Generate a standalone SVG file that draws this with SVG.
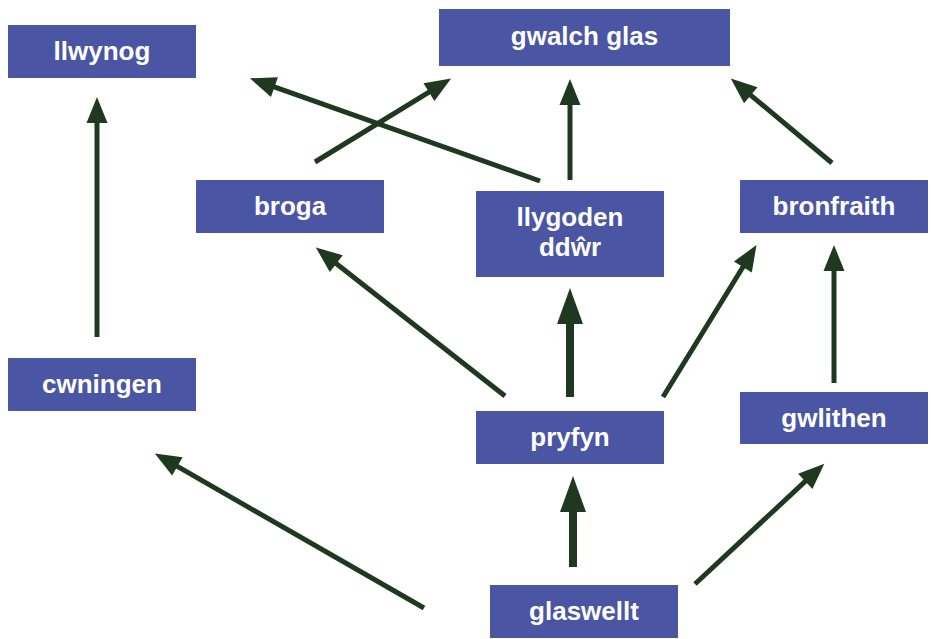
<svg xmlns="http://www.w3.org/2000/svg" width="931" height="639" viewBox="0 0 931 639">
<style>
.box{fill:#4a55a3}
.lbl{fill:#ffffff;font-family:"Liberation Sans",Arial,sans-serif;font-weight:bold;font-size:26px;text-anchor:middle}
.c{stroke:#1f3920;stroke-width:5;fill:none}
.t{stroke-width:8}
</style>
<defs>
<marker id="ah" markerUnits="userSpaceOnUse" markerWidth="28" markerHeight="22" refX="1" refY="10.5" orient="auto" overflow="visible"><path d="M0,0 L26,10.5 L0,21 z" fill="#1f3920"/></marker>
<marker id="ahT" markerUnits="userSpaceOnUse" markerWidth="38" markerHeight="28" refX="1" refY="13" orient="auto" overflow="visible"><path d="M0,0 L36,13 L0,26 z" fill="#1f3920"/></marker>
</defs>
<rect width="931" height="639" fill="#ffffff"/>
<g id="connectors">
<line class="c" x1="97" y1="337" x2="97" y2="122" marker-end="url(#ah)"/>
<line class="c" x1="540" y1="181" x2="273.5" y2="86.7" marker-end="url(#ah)"/>
<line class="c" x1="315" y1="162" x2="429.8" y2="91.6" marker-end="url(#ah)"/>
<line class="c" x1="570" y1="180" x2="570" y2="104" marker-end="url(#ah)"/>
<line class="c" x1="832" y1="163" x2="750" y2="94.6" marker-end="url(#ah)"/>
<line class="c" x1="505" y1="396" x2="335.5" y2="263" marker-end="url(#ah)"/>
<line class="c t" x1="570" y1="397" x2="570" y2="323" marker-end="url(#ahT)"/>
<line class="c" x1="663" y1="397" x2="743.4" y2="266.2" marker-end="url(#ah)"/>
<line class="c" x1="834" y1="383" x2="834" y2="270" marker-end="url(#ah)"/>
<line class="c t" x1="573" y1="567" x2="573" y2="511" marker-end="url(#ahT)"/>
<line class="c" x1="424" y1="608" x2="176.5" y2="465.9" marker-end="url(#ah)"/>
<line class="c" x1="695" y1="584" x2="806" y2="480.7" marker-end="url(#ah)"/>
</g>
<g id="llwynog"><rect class="box" x="8" y="25" width="188" height="53"/><text class="lbl" x="102" y="60">llwynog</text></g>
<g id="gwalch-glas"><rect class="box" x="439" y="9" width="291" height="57"/><text class="lbl" x="584.5" y="45">gwalch glas</text></g>
<g id="broga"><rect class="box" x="196" y="180" width="188" height="53"/><text class="lbl" x="290" y="215">broga</text></g>
<g id="llygoden-ddwr"><rect class="box" x="476" y="191" width="188" height="86"/><text class="lbl" x="570" y="226">llygoden</text><text class="lbl" x="570" y="256">ddŵr</text></g>
<g id="bronfraith"><rect class="box" x="740" y="180" width="188" height="53"/><text class="lbl" x="834" y="215">bronfraith</text></g>
<g id="cwningen"><rect class="box" x="8" y="358" width="188" height="53"/><text class="lbl" x="102" y="393">cwningen</text></g>
<g id="pryfyn"><rect class="box" x="476" y="411" width="188" height="53"/><text class="lbl" x="570" y="446">pryfyn</text></g>
<g id="gwlithen"><rect class="box" x="740" y="392" width="188" height="52"/><text class="lbl" x="834" y="427">gwlithen</text></g>
<g id="glaswellt"><rect class="box" x="490" y="585" width="188" height="53"/><text class="lbl" x="584" y="620">glaswellt</text></g>
</svg>
